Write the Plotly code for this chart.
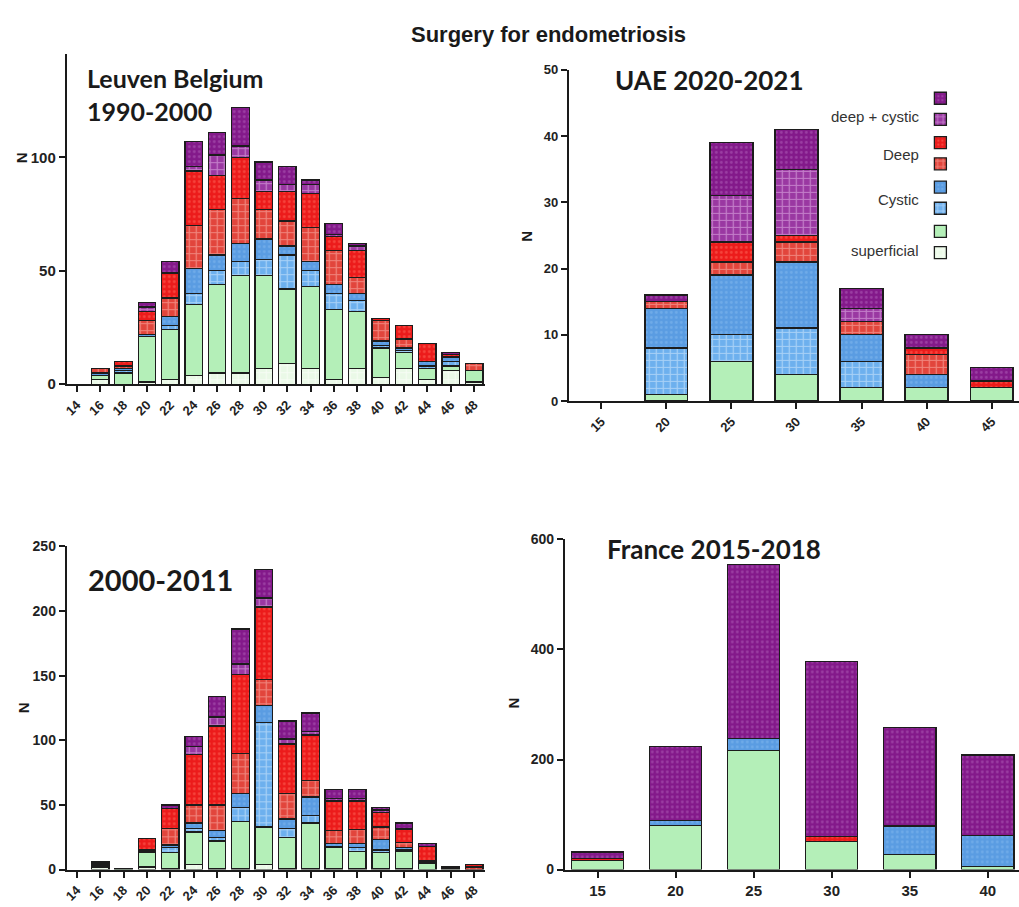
import plotly.graph_objects as go

# ---------------- data ----------------
# stack order (bottom -> top):
# superficial (hatched), superficial, cystic (hatched), cystic,
# deep (hatched), deep, deep+cystic (hatched), deep+cystic

leuven_ages = ["14", "16", "18", "20", "22", "24", "26", "28", "30", "32", "34",
               "36", "38", "40", "42", "44", "46", "48"]
leuven_sup_h = [0, 2, 0, 1, 2, 4, 5, 5, 7, 9, 7, 2, 7, 3, 7, 2, 6, 1]
leuven_sup = [0, 2, 5, 20, 22, 31, 39, 43, 41, 33, 36, 31, 25, 13, 7, 5, 2, 5]
leuven_cys_h = [0, 0, 1, 0, 2, 5, 6, 6, 7, 15, 7, 7, 5, 1, 1, 1, 2, 0]
leuven_cys = [0, 1, 1, 1, 4, 11, 7, 8, 9, 4, 4, 4, 3, 2, 1, 2, 2, 0]
leuven_deep_h = [0, 2, 1, 6, 8, 19, 20, 20, 13, 11, 15, 15, 7, 9, 4, 0, 0, 3]
leuven_deep = [0, 0, 2, 4, 11, 24, 15, 18, 8, 13, 15, 6, 12, 1, 6, 8, 1, 0]
leuven_dc_h = [0, 0, 0, 2, 0, 2, 9, 5, 5, 3, 4, 1, 2, 0, 0, 0, 0, 0]
leuven_dc = [0, 0, 0, 2, 5, 11, 10, 17, 8, 8, 2, 5, 1, 0, 0, 0, 1, 0]

uae_ages = ["15", "20", "25", "30", "35", "40", "45"]
uae_sup_h = [0, 0, 0, 0, 0, 0, 0]
uae_sup = [0, 1, 6, 4, 2, 2, 2]
uae_cys_h = [0, 7, 4, 7, 4, 0, 0]
uae_cys = [0, 6, 9, 10, 4, 2, 0]
uae_deep_h = [0, 1, 2, 3, 2, 3, 0]
uae_deep = [0, 0, 3, 1, 0, 1, 1]
uae_dc_h = [0, 0, 7, 10, 2, 0, 0]
uae_dc = [0, 1, 8, 6, 3, 2, 2]

l2000_ages = leuven_ages
l2000_sup_h = [0, 2, 0, 2, 1, 4, 1, 1, 4, 1, 1, 1, 1, 1, 1, 0, 1, 0]
l2000_sup = [0, 1, 1, 11, 12, 25, 21, 36, 29, 24, 35, 16, 13, 12, 13, 5, 1, 0]
l2000_cys_h = [0, 1, 0, 0, 4, 3, 3, 11, 81, 7, 6, 1, 3, 2, 1, 1, 0, 0]
l2000_cys = [0, 1, 0, 1, 2, 4, 5, 11, 13, 7, 14, 2, 3, 8, 2, 1, 0, 0]
l2000_deep_h = [0, 1, 0, 1, 13, 14, 20, 31, 20, 20, 13, 10, 11, 10, 4, 0, 0, 2]
l2000_deep = [0, 0, 0, 9, 15, 39, 61, 61, 56, 38, 35, 23, 22, 11, 10, 11, 0, 2]
l2000_dc_h = [0, 0, 0, 0, 0, 6, 7, 8, 7, 4, 3, 2, 2, 2, 1, 0, 0, 0]
l2000_dc = [0, 0, 0, 0, 3, 8, 16, 27, 22, 14, 14, 7, 7, 2, 4, 2, 0, 0]

france_ages = ["15", "20", "25", "30", "35", "40"]
france_sup_h = [0, 0, 0, 0, 0, 0]
france_sup = [17, 80, 216, 51, 27, 5]
france_cys_h = [0, 0, 0, 0, 0, 0]
france_cys = [0, 9, 22, 0, 52, 57]
france_deep_h = [0, 0, 0, 0, 0, 0]
france_deep = [3, 0, 0, 9, 0, 0]
france_dc_h = [0, 0, 0, 0, 0, 0]
france_dc = [12, 135, 316, 318, 179, 146]

legend_labels = ["deep + cystic", "Deep", "Cystic", "superficial"]

# ---------------- styles ----------------
W, H = 1019, 907
OUTLINE = "#1c1c1c"

SEGMENTS = [
    # group, background colour, pattern shape, pattern colour, legend rank
    ("sup", "#eaf9e7", "+", "#ffffff", 8),
    ("sup", "#b4efb8", "", None, 7),
    ("cys", "#6db0ee", "+", "#e2f0fd", 6),
    ("cys", "#5a9ce2", ".", "#86b9ee", 5),
    ("deep", "#e2453c", "+", "#fbc4bc", 4),
    ("deep", "#ec1b1b", ".", "#ff7060", 3),
    ("dc", "#9a38a2", "+", "#ecc4f0", 2),
    ("dc", "#83198a", ".", "#b466bc", 1),
]


def px_x(p):
    return p / W


def px_y(p):
    return 1 - p / H


fig = go.Figure()


def add_panel(n, ages, series, width, show_legend):
    xa = "x" if n == 1 else f"x{n}"
    ya = "y" if n == 1 else f"y{n}"
    for (grp, bg, shape, fg, rank), vals in zip(SEGMENTS, series):
        if shape == "+":
            pattern = dict(shape=shape, fillmode="overlay", size=7, solidity=0.32,
                           fgcolor=fg, bgcolor=bg)
        elif shape == ".":
            pattern = dict(shape=shape, fillmode="overlay", size=5, solidity=0.25,
                           fgcolor=fg, bgcolor=bg)
        else:
            pattern = dict(shape="")
        # empty segments are left out so they draw no outline
        yvals = [v if v else None for v in vals]
        fig.add_trace(go.Bar(
            x=ages, y=yvals, width=width, xaxis=xa, yaxis=ya,
            marker=dict(color=bg, pattern=pattern,
                        line=dict(color=OUTLINE, width=1.3)),
            name="", legendgroup=grp, legendrank=rank, showlegend=show_legend,
        ))


add_panel(1, leuven_ages, [leuven_sup_h, leuven_sup, leuven_cys_h, leuven_cys,
                           leuven_deep_h, leuven_deep, leuven_dc_h, leuven_dc], 0.75, False)
add_panel(2, uae_ages, [uae_sup_h, uae_sup, uae_cys_h, uae_cys,
                        uae_deep_h, uae_deep, uae_dc_h, uae_dc], 0.66, True)
add_panel(3, l2000_ages, [l2000_sup_h, l2000_sup, l2000_cys_h, l2000_cys,
                          l2000_deep_h, l2000_deep, l2000_dc_h, l2000_dc], 0.75, False)
add_panel(4, france_ages, [france_sup_h, france_sup, france_cys_h, france_cys,
                           france_deep_h, france_deep, france_dc_h, france_dc], 0.67, False)

TICKFONT = "Liberation Sans, Arial, sans-serif"


def axis_pair(n, x0, x1, y_top, y_bot, xrange, yrange, ytickvals, xangle, xsize, ysize):
    xk = "xaxis" if n == 1 else f"xaxis{n}"
    yk = "yaxis" if n == 1 else f"yaxis{n}"
    ya = "y" if n == 1 else f"y{n}"
    xa = "x" if n == 1 else f"x{n}"
    common = dict(showline=True, linecolor="#1a1a1a", linewidth=2, ticks="outside",
                  ticklen=6, tickwidth=2, tickcolor="#1a1a1a", showgrid=False,
                  zeroline=False, fixedrange=True)
    fig.layout[xk] = dict(common, domain=[px_x(x0), px_x(x1)], anchor=ya, type="category",
                          range=xrange, tickangle=xangle,
                          tickfont=dict(family=TICKFONT, size=xsize, color="#222", weight="bold"))
    fig.layout[yk] = dict(common, domain=[px_y(y_bot), px_y(y_top)], anchor=xa,
                          range=yrange, tickvals=ytickvals,
                          tickfont=dict(family=TICKFONT, size=ysize, color="#222", weight="bold"))


axis_pair(1, 63, 483, 47, 383, [-0.43, 17.47], [0, 145.5], [0, 50, 100], -45, 13, 15)
axis_pair(2, 567, 1019, 63, 400, [-0.5, 6.42], [0, 50], [0, 10, 20, 30, 40, 50], -45, 13, 13)
axis_pair(3, 63, 483, 548, 877, [-0.43, 17.47], [0, 250], [0, 50, 100, 150, 200, 250], -45, 13, 14)
axis_pair(4, 563, 1019, 541, 877, [-0.42, 5.40], [0, 600], [0, 200, 400, 600], 0, 15, 14)

annotations = []


def note(text, x, y, size, family, weight="bold", angle=0, xanchor="center", color="#1a1a1a"):
    annotations.append(dict(text=text, x=px_x(x), y=px_y(y), xref="paper", yref="paper",
                            showarrow=False, xanchor=xanchor, yanchor="middle", textangle=angle,
                            align="left",
                            font=dict(size=size, family=family, color=color, weight=weight)))


TITLEFONT = "Lato, Carlito, sans-serif"
note("Surgery for endometriosis", 547, 27, 22, TICKFONT)
note("Leuven Belgium<br>1990-2000", 81, 88, 25, TITLEFONT, xanchor="left")
note("UAE 2020-2021", 611, 73, 26, TITLEFONT, xanchor="left")
note("2000-2011", 82, 582, 29, TITLEFONT, xanchor="left")
note("France 2015-2018", 603, 551, 26, TITLEFONT, xanchor="left")

for x, y in [(17, 152), (525, 232), (20, 712), (512, 707)]:
    note("N", x, y, 15, TICKFONT, angle=-90)

for label, y in zip(legend_labels, [110, 149, 195, 247]):
    note(label, 921, y, 15, TICKFONT, weight="normal", xanchor="right", color="#333")

fig.update_layout(
    width=W, height=H, margin=dict(l=0, r=0, t=0, b=0),
    paper_bgcolor="white", plot_bgcolor="white", barmode="stack",
    annotations=annotations,
    legend=dict(x=px_x(920), y=px_y(76), xanchor="left", yanchor="top",
                bgcolor="rgba(0,0,0,0)", traceorder="grouped",
                tracegroupgap=2, font=dict(size=14), itemwidth=30),
    hovermode=False,
)

fig.write_html("out.html")
